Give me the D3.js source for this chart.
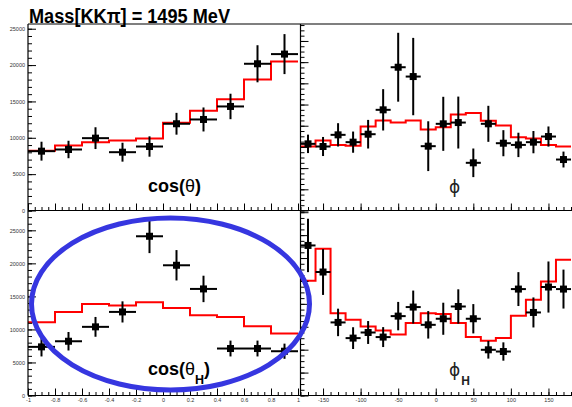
<!DOCTYPE html>
<html><head><meta charset="utf-8">
<script src="https://cdn.jsdelivr.net/npm/d3@7"></script>
<style>body{margin:0;background:#fff}svg{display:block}</style>
</head><body><svg id="c" width="572" height="407"></svg>
<script>
// ---------- data ----------
const cosCenters = [-0.9,-0.7,-0.5,-0.3,-0.1,0.1,0.3,0.5,0.7,0.9];
const phiCenters = [-170,-150,-130,-110,-90,-70,-50,-30,-10,10,30,50,70,90,110,130,150,170];

const cosThetaData = [8160,8390,9950,8020,8800,11930,12520,14310,20180,21510];
const cosThetaErr  = [1300,1200,1500,1300,1400,1500,1650,1750,2550,2750];
const cosThetaFit  = [8210,8940,9400,9630,9900,12060,13710,15310,18020,20500];

const phiData = [6290,6040,7140,6450,7200,9500,13520,12640,6070,8180,8300,4500,8180,6350,6190,6450,6980,4810];
const phiErr  = [870,900,1100,1000,1350,1950,3250,3650,2350,2550,2450,1350,1700,1230,1150,1050,950,750];
const phiFit  = [6040,6600,6190,6100,7920,8490,8300,8490,7640,7860,9060,9210,8460,8020,6920,6790,6190,6040];

const cosThetaHData = [7360,8210,10390,12650,24100,19710,16130,7110,7110,6700];
const cosThetaHErr  = [1450,1400,1500,1600,2550,2300,2000,1200,1200,1150];
const cosThetaHFit  = [11090,12650,13860,13610,14110,13260,12150,11900,10480,9380];

const phiHData = [13100,10780,6380,5010,5500,5100,6930,7720,6170,6700,7770,6700,3990,3840,9290,7250,9470,9290];
const phiHErr  = [2330,2000,1200,950,1000,870,1240,1440,1200,1400,1500,1280,770,800,1480,1310,2230,1700];
const phiHFit  = [10020,12810,7190,6610,6030,5680,5330,6320,7190,7110,6320,5100,4780,5010,6960,8360,9960,11850];

const cosTickLabels = ["-1","-0.8","-0.6","-0.4","-0.2","0","0.2","0.4","0.6","0.8","1"];
const phiTickLabels = ["-150","-100","-50","0","50","100","150"];
const countTickLabels = ["0","5000","10000","15000","20000","25000"];

// ---------- drawing ----------
const svg = d3.select("#c");
const LBL_FONT = "Liberation Sans, Arial, sans-serif";

function panel(o){
  const x = d3.scaleLinear().domain(o.xDom).range([o.x0, o.x1]);
  const y = d3.scaleLinear().domain(o.yDom).range([o.y1, o.y0]);
  const g = svg.append("g");

  // fit histogram (step)
  const edges = o.centers.map(c => c - o.half);
  const pts = edges.map((e,i)=>[e, o.fit[i]]);
  pts.push([o.centers[o.centers.length-1] + o.half, o.fit[o.fit.length-1]]);
  g.append("path")
    .attr("d", d3.line().x(d=>x(d[0])).y(d=>y(d[1])).curve(d3.curveStepAfter)(pts))
    .attr("fill","none").attr("stroke","#ff0000").attr("stroke-width",2);

  // data points with error bars
  const pg = g.append("g").attr("stroke","#000").attr("stroke-width",2);
  o.centers.forEach((c,i)=>{
    const v=o.data[i], e=o.err[i];
    pg.append("line").attr("x1",x(c-o.half)).attr("x2",x(c+o.half)).attr("y1",y(v)).attr("y2",y(v));
    pg.append("line").attr("x1",x(c)).attr("x2",x(c)).attr("y1",y(v-e)).attr("y2",y(v+e));
  });
  g.selectAll("rect.m").data(o.centers).join("rect").attr("class","m")
    .attr("x",(c)=>x(c)-3.5).attr("y",(c,i)=>y(o.data[i])-3.5)
    .attr("width",7).attr("height",7).attr("fill","#000");

  // axes
  const ax = g.append("g");
  ax.append("g").attr("transform",`translate(0,${o.y1})`)
    .call(d3.axisBottom(x).tickValues(o.xMinor).tickSize(-3.5).tickFormat(""))
    .call(s=>s.select(".domain").remove());
  ax.append("g").attr("transform",`translate(0,${o.y1})`)
    .call(d3.axisBottom(x).tickValues(o.xMajor.map(Number)).tickSize(-7).tickPadding(2.5)
      .tickFormat((d,i)=> o.showX ? o.xMajor[i] : ""))
    .call(s=>s.select(".domain").remove());
  ax.append("g").attr("transform",`translate(${o.x0},0)`)
    .call(d3.axisLeft(y).tickValues(o.yMinor).tickSize(-4).tickFormat(""))
    .call(s=>s.select(".domain").remove());
  ax.append("g").attr("transform",`translate(${o.x0},0)`)
    .call(d3.axisLeft(y).tickValues(o.yMajor.map(Number)).tickSize(-8).tickPadding(3)
      .tickFormat((d,i)=> o.showY ? o.yMajor[i] : ""))
    .call(s=>s.select(".domain").remove());
  ax.selectAll("line").attr("stroke","#000").attr("stroke-width",1);
  ax.selectAll("text").attr("font-size",5.5).attr("font-family",LBL_FONT).attr("fill","#333");
  return {x,y};
}

const cosMinor = d3.range(-20,21).map(i=>i*0.05);
const phiMinor = d3.range(-18,19).map(i=>i*10);
const leftMinor = d3.range(0,28001,1000);
const rightMinor = d3.range(0,18001,500);
const rightMajor = d3.range(0,18001,2000).map(String);

panel({x0:28,x1:298,y0:24,y1:210.5,xDom:[-1,1],yDom:[0,25650],centers:cosCenters,half:0.1,
  data:cosThetaData,err:cosThetaErr,fit:cosThetaFit,xMajor:cosTickLabels,xMinor:cosMinor,
  yMajor:countTickLabels,yMinor:leftMinor.filter(v=>v<=25650),showX:false,showY:true});
panel({x0:300.5,x1:571,y0:24,y1:210.5,xDom:[-180,180],yDom:[0,17600],centers:phiCenters,half:10,
  data:phiData,err:phiErr,fit:phiFit,xMajor:phiTickLabels,xMinor:phiMinor,
  yMajor:rightMajor.filter(v=>+v<=17600),yMinor:rightMinor.filter(v=>v<=17600),showX:false,showY:false});
panel({x0:28,x1:298,y0:210.5,y1:395.5,xDom:[-1,1],yDom:[0,28000],centers:cosCenters,half:0.1,
  data:cosThetaHData,err:cosThetaHErr,fit:cosThetaHFit,xMajor:cosTickLabels,xMinor:cosMinor,
  yMajor:countTickLabels,yMinor:leftMinor,showX:true,showY:true});
panel({x0:300.5,x1:571,y0:210.5,y1:395.5,xDom:[-180,180],yDom:[0,16150],centers:phiCenters,half:10,
  data:phiHData,err:phiHErr,fit:phiHFit,xMajor:phiTickLabels,xMinor:phiMinor,
  yMajor:rightMajor.filter(v=>+v<=16150),yMinor:rightMinor.filter(v=>v<=16150),showX:true,showY:false});

// frame lines
const fr = svg.append("g").attr("stroke","#000").attr("stroke-width",1.2);
[[28,24,572,24],[28,210.5,572,210.5],[28,395.5,572,395.5],[28,24,28,395.5],[300.5,24,300.5,395.5]]
  .forEach(l=>fr.append("line").attr("x1",l[0]).attr("y1",l[1]).attr("x2",l[2]).attr("y2",l[3]));

// title
svg.append("text").attr("x",29).attr("y",22.5).attr("font-family",LBL_FONT).attr("font-weight","bold")
  .attr("font-size",19.5).attr("fill","#000").attr("textLength",201).attr("lengthAdjust","spacingAndGlyphs")
  .text("Mass[KKπ] = 1495 MeV");

// panel labels
const t1 = svg.append("text").attr("x",148).attr("y",191.5).attr("font-family",LBL_FONT).attr("font-size",18).attr("fill","#000");
t1.append("tspan").attr("font-weight","bold").text("cos(");
t1.append("tspan").text("θ");
t1.append("tspan").attr("font-weight","bold").text(")");

const t2 = svg.append("text").attr("x",148).attr("y",375).attr("font-family",LBL_FONT).attr("font-size",18).attr("fill","#000");
t2.append("tspan").attr("font-weight","bold").text("cos(");
t2.append("tspan").text("θ");
t2.append("tspan").attr("font-weight","bold").attr("font-size",12.5).attr("dy",8.5).text("H");
t2.append("tspan").attr("font-weight","bold").attr("dy",-8.5).text(")");

svg.append("text").attr("x",449).attr("y",193).attr("font-family","DejaVu Sans, sans-serif")
  .attr("font-size",17).attr("fill","#222").text("ϕ");
const t4 = svg.append("text").attr("x",449).attr("y",376).attr("font-family","DejaVu Sans, sans-serif")
  .attr("font-size",17).attr("fill","#222");
t4.append("tspan").text("ϕ");
t4.append("tspan").attr("font-family",LBL_FONT).attr("font-weight","bold").attr("font-size",12).attr("dy",9).attr("dx",1).text("H");

// annotation ellipse
svg.append("ellipse").attr("cx",170.5).attr("cy",304).attr("rx",139).attr("ry",86)
  .attr("fill","none").attr("stroke","#3636e0").attr("stroke-width",5);
</script></body></html>
